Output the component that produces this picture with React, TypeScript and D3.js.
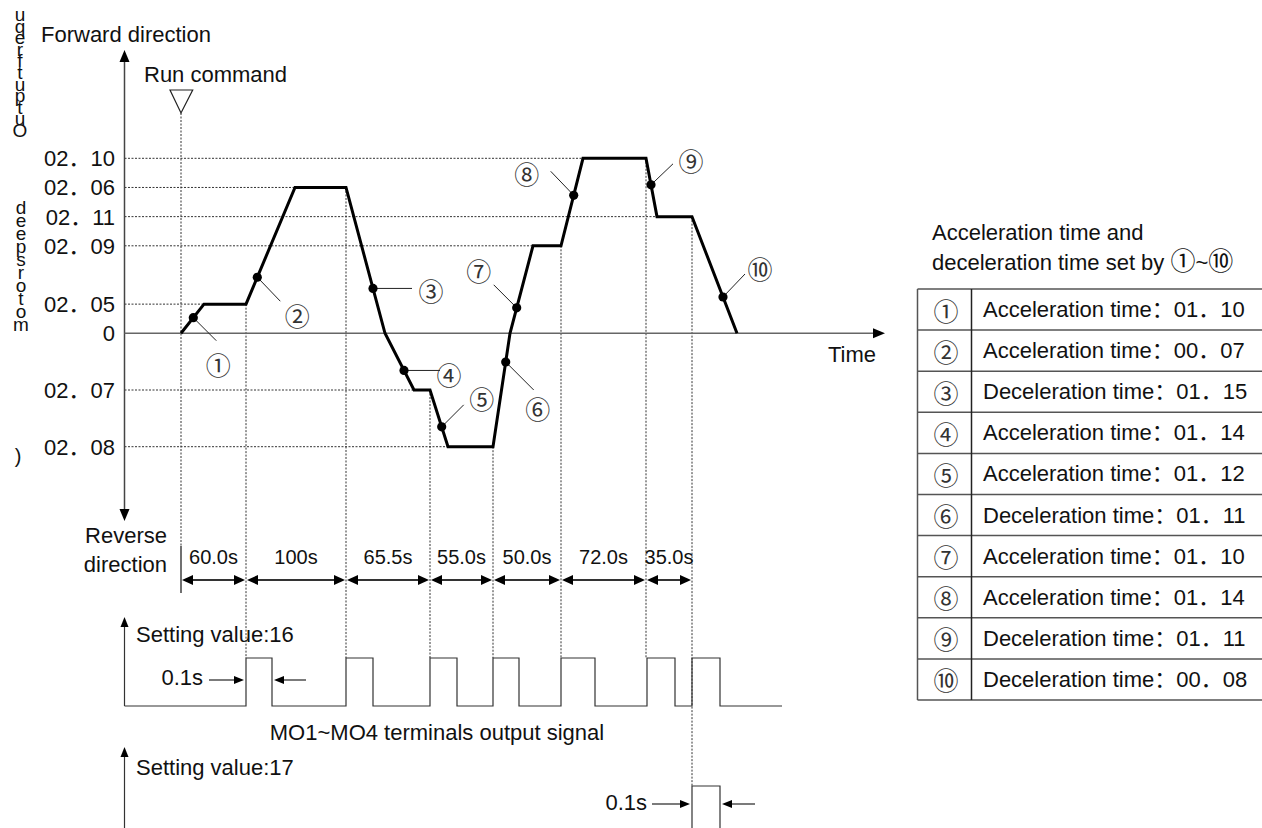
import React from "react";
import * as d3 from "d3";

// ---------- data ----------
const levelLabels = ["02．10", "02．06", "02．11", "02．09", "02．05", "0", "02．07", "02．08"];
const levelValues = [6, 5, 4, 3, 1, 0, -2, -4];

// schematic speed profile: time (s, schematic) vs output-frequency level
const profileTime = [0, 23, 65, 114, 165, 204, 233, 249, 267, 312, 329, 352, 380, 402, 465, 476, 511, 556];
const profileLevel = [0, 1, 1, 5, 5, 0, -2, -2, -4, -4, 0, 3, 3, 6, 6, 4, 4, 0];

const markerNames = ["①", "②", "③", "④", "⑤", "⑥", "⑦", "⑧", "⑨", "⑩"];
const markerTime = [12.3, 76.3, 192, 223, 260.7, 324.7, 335.7, 392.7, 470, 542];

const boundaryTime = [0, 65, 165, 249, 312, 380, 465, 511];
const durationLabels = ["60.0s", "100s", "65.5s", "55.0s", "50.0s", "72.0s", "35.0s"];

const pulse16Start = [65, 165, 249, 312, 380, 466, 511];
const pulse16Width = [26, 27, 27, 26, 34, 28, 28];
const pulse17Start = [511];
const pulse17Width = [28];

const tableKinds = [
  "Acceleration", "Acceleration", "Deceleration", "Acceleration", "Acceleration",
  "Deceleration", "Acceleration", "Acceleration", "Deceleration", "Deceleration",
];
const tableValues = ["01．10", "00．07", "01．15", "01．14", "01．12", "01．11", "01．10", "01．14", "01．11", "00．08"];

// stacked (garbled) vertical axis title letters, top to bottom
const axisTitleTop = ["u", "q", "e", "r", "f", "t", "u", "p", "t", "u", "O"];
const axisTitleMid = ["d", "e", "e", "p", "s", "r", "o", "t", "o", "m"];

// annotation layout (leader end and label offsets from each marker dot)
const markerLeader = [[23, 23], [23, 24], [39, 0], [36, 0], [22, -22], [28, 28], [-23, -23], [-23, -24], [22, -21], [22, -23]];
const markerLabel = [[25, 46], [40, 38], [58, 2], [45, 4], [40, -29], [32, 46], [-38, -38], [-47, -22], [40, -25], [37, -29]];

// ---------- layout ----------
const W = 1262, H = 828;
const FONT = "'Liberation Sans', Arial, 'Noto Sans CJK SC', sans-serif";
const CJK = "'Noto Sans CJK SC', 'Noto Sans CJK JP', sans-serif";
const axisX = 124.5;
const zeroEnd = 885;
const durY = 580;
const p16Base = 706, p16Top = 658;
const p17Base = 830, p17Top = 786;
const circSize = 25;

const x = d3.scaleLinear().domain([0, 704]).range([181, 885]);
const y = d3.scaleLinear().domain([-4, 0, 6]).range([446.7, 333.3, 158.3]);
const levelAt = d3.scaleLinear().domain(profileTime).range(profileLevel);

function tri(tx: number, ty: number, dir: string, len = 12, hw = 5) {
  let pts: number[][] = [];
  if (dir === "up") pts = [[tx, ty], [tx - hw, ty + len], [tx + hw, ty + len]];
  if (dir === "down") pts = [[tx, ty], [tx - hw, ty - len], [tx + hw, ty - len]];
  if (dir === "right") pts = [[tx, ty], [tx - len, ty - hw], [tx - len, ty + hw]];
  if (dir === "left") pts = [[tx, ty], [tx + len, ty - hw], [tx + len, ty + hw]];
  return <path d={"M" + pts.map((p) => p.join(",")).join("L") + "Z"} fill="#000" />;
}

function pulsePath(starts: number[], widths: number[], base: number, top: number, x0: number, x1: number) {
  const p = d3.path();
  p.moveTo(x0, base);
  starts.forEach((s, i) => {
    const a = x(s), b = x(s + widths[i]);
    p.lineTo(a, base);
    p.lineTo(a, top);
    p.lineTo(b, top);
    p.lineTo(b, base);
  });
  p.lineTo(x1, base);
  return p.toString();
}

export default function App() {
  const line = d3.line<number>().x((_, i) => x(profileTime[i])).y((d) => y(d));
  const dotted = { stroke: "#333", strokeWidth: 1, strokeDasharray: "2,1.5", fill: "none" } as const;

  // level guide lines end at plateau end for each level
  const levelEnd = levelValues.map((v) => {
    let end = 0;
    profileLevel.forEach((l, i) => { if (l === v) end = profileTime[i]; });
    return end;
  });

  return (
    <svg width={W} height={H} style={{ position: "absolute", left: 0, top: 0, background: "#fff" }} fontFamily={FONT}>
      <rect width={W} height={H} fill="#fff" />

      {/* stacked vertical title letters */}
      {axisTitleTop.map((c, i) => (
        <text key={"t" + i} x={20} y={21 + i * 11.6} fontSize={19} textAnchor="middle" fill="#111">{c}</text>
      ))}
      {axisTitleMid.map((c, i) => (
        <text key={"m" + i} x={21} y={214 + i * 13} fontSize={19} textAnchor="middle" fill="#111">{c}</text>
      ))}
      <text x={18} y={463} fontSize={20} textAnchor="middle" fill="#111">)</text>

      <text x={41} y={41.5} fontSize={22} fill="#111">Forward direction</text>
      <text x={144} y={81.5} fontSize={22} fill="#111">Run command</text>
      <path d={`M${x(0) - 11},90L${x(0) + 11.7},90L${x(0)},113Z`} fill="none" stroke="#222" strokeWidth={1.2} />

      {/* horizontal level guides */}
      {levelValues.map((v, i) =>
        v === 0 ? null : (
          <line key={"hl" + i} x1={axisX} x2={x(levelEnd[i])} y1={y(v)} y2={y(v)} {...dotted} />
        )
      )}
      {/* vertical boundary guides */}
      <line x1={x(0)} x2={x(0)} y1={113} y2={546} {...dotted} />
      <line x1={x(0)} x2={x(0)} y1={546} y2={593} stroke="#111" strokeWidth={1.2} />
      {boundaryTime.slice(1).map((t, i) => (
        <line key={"vb" + i} x1={x(t)} x2={x(t)} y1={y(levelAt(t))}
          y2={i === boundaryTime.length - 2 ? p17Top : p16Top} {...dotted} />
      ))}

      {/* axes */}
      <line x1={axisX} x2={axisX} y1={58} y2={512} stroke="#444" strokeWidth={1.5} />
      {tri(axisX, 50, "up")}
      {tri(axisX, 521, "down")}
      <line x1={axisX} x2={zeroEnd - 10} y1={y(0)} y2={y(0)} stroke="#666" strokeWidth={1.5} />
      {tri(zeroEnd, y(0), "right")}
      <text x={828} y={362} fontSize={22} fill="#111">Time</text>

      {levelValues.map((v, i) => (
        <text key={"yl" + i} x={115} y={y(v) + 8} fontSize={22} textAnchor="end" fill="#111">{levelLabels[i]}</text>
      ))}

      <text x={167} y={543} fontSize={22} textAnchor="end" fill="#111">Reverse</text>
      <text x={167} y={571.5} fontSize={22} textAnchor="end" fill="#111">direction</text>

      {/* profile curve */}
      <path d={line(profileLevel) || ""} fill="none" stroke="#000" strokeWidth={3} strokeLinejoin="miter" />

      {/* markers */}
      {markerTime.map((t, i) => {
        const cx = x(t), cy = y(levelAt(t));
        return (
          <g key={"mk" + i}>
            <line x1={cx} y1={cy} x2={cx + markerLeader[i][0]} y2={cy + markerLeader[i][1]} stroke="#222" strokeWidth={1} />
            <circle cx={cx} cy={cy} r={4.6} fill="#000" />
            <text x={cx + markerLabel[i][0]} y={cy + markerLabel[i][1]} fontFamily={CJK} fontSize={circSize}
              textAnchor="middle" dominantBaseline="central" fill="#333">{markerNames[i]}</text>
          </g>
        );
      })}

      {/* duration arrows */}
      {durationLabels.map((lab, i) => {
        const a = x(boundaryTime[i]), b = x(boundaryTime[i + 1]);
        return (
          <g key={"du" + i}>
            <line x1={a + 8} x2={b - 8} y1={durY} y2={durY} stroke="#333" strokeWidth={2} />
            {tri(a + 1, durY, "left", 11, 5)}
            {tri(b - 1, durY, "right", 11, 5)}
            <text x={(a + b) / 2} y={564} fontSize={20} textAnchor="middle" fill="#111">{lab}</text>
          </g>
        );
      })}

      {/* pulse train: setting value 16 */}
      <line x1={axisX} x2={axisX} y1={624} y2={p16Base} stroke="#333" strokeWidth={1.2} />
      {tri(axisX, 617, "up", 10, 4)}
      <text x={136} y={641.5} fontSize={22} fill="#111">Setting value:16</text>
      <path d={pulsePath(pulse16Start, pulse16Width, p16Base, p16Top, axisX, 782)} fill="none" stroke="#333" strokeWidth={1.2} />
      <text x={203} y={685} fontSize={22} textAnchor="end" fill="#111">0.1s</text>
      <line x1={209} x2={x(pulse16Start[0]) - 8} y1={680} y2={680} stroke="#222" strokeWidth={1.2} />
      {tri(x(pulse16Start[0]) - 2, 680, "right", 10, 4)}
      <line x1={x(pulse16Start[0] + pulse16Width[0]) + 8} x2={306} y1={680} y2={680} stroke="#222" strokeWidth={1.2} />
      {tri(x(pulse16Start[0] + pulse16Width[0]) + 2, 680, "left", 10, 4)}

      <text x={437} y={740} fontSize={22} textAnchor="middle" fill="#111">MO1~MO4 terminals output signal</text>

      {/* pulse train: setting value 17 */}
      <line x1={axisX} x2={axisX} y1={754} y2={H} stroke="#333" strokeWidth={1.2} />
      {tri(axisX, 747, "up", 10, 4)}
      <text x={136} y={775} fontSize={22} fill="#111">Setting value:17</text>
      <path d={pulsePath(pulse17Start, pulse17Width, p17Base, p17Top, axisX, 782)} fill="none" stroke="#333" strokeWidth={1.2} />
      <text x={647} y={810} fontSize={22} textAnchor="end" fill="#111">0.1s</text>
      <line x1={652} x2={x(pulse17Start[0]) - 8} y1={804} y2={804} stroke="#222" strokeWidth={1.2} />
      {tri(x(pulse17Start[0]) - 2, 804, "right", 10, 4)}
      <line x1={x(pulse17Start[0] + pulse17Width[0]) + 8} x2={755} y1={804} y2={804} stroke="#222" strokeWidth={1.2} />
      {tri(x(pulse17Start[0] + pulse17Width[0]) + 2, 804, "left", 10, 4)}

      {/* legend table */}
      <text x={932} y={240} fontSize={22} fill="#111">Acceleration time and</text>
      <text x={932} y={270} fontSize={22} fill="#111">
        deceleration time set by <tspan fontFamily={CJK} fontSize={circSize}>{markerNames[0]}</tspan>~<tspan fontFamily={CJK} fontSize={circSize}>{markerNames[9]}</tspan>
      </text>
      {(() => {
        const top = 289, rh = 41.1, left = 917.5, div = 971.5;
        const n = tableKinds.length;
        return (
          <g>
            {d3.range(n + 1).map((k) => (
              <line key={"tr" + k} x1={left} x2={W} y1={top + k * rh} y2={top + k * rh} stroke="#555" strokeWidth={1.5} />
            ))}
            <line x1={left} x2={left} y1={top} y2={top + n * rh} stroke="#555" strokeWidth={1.5} />
            <line x1={div} x2={div} y1={top} y2={top + n * rh} stroke="#222" strokeWidth={1.5} />
            {tableKinds.map((k, i) => (
              <g key={"row" + i}>
                <text x={946} y={top + i * rh + rh / 2} fontFamily={CJK} fontSize={circSize} textAnchor="middle"
                  dominantBaseline="central" fill="#333">{markerNames[i]}</text>
                <text x={983} y={top + i * rh + 28} fontSize={22} fill="#111">{k} time：{tableValues[i]}</text>
              </g>
            ))}
          </g>
        );
      })()}
    </svg>
  );
}
